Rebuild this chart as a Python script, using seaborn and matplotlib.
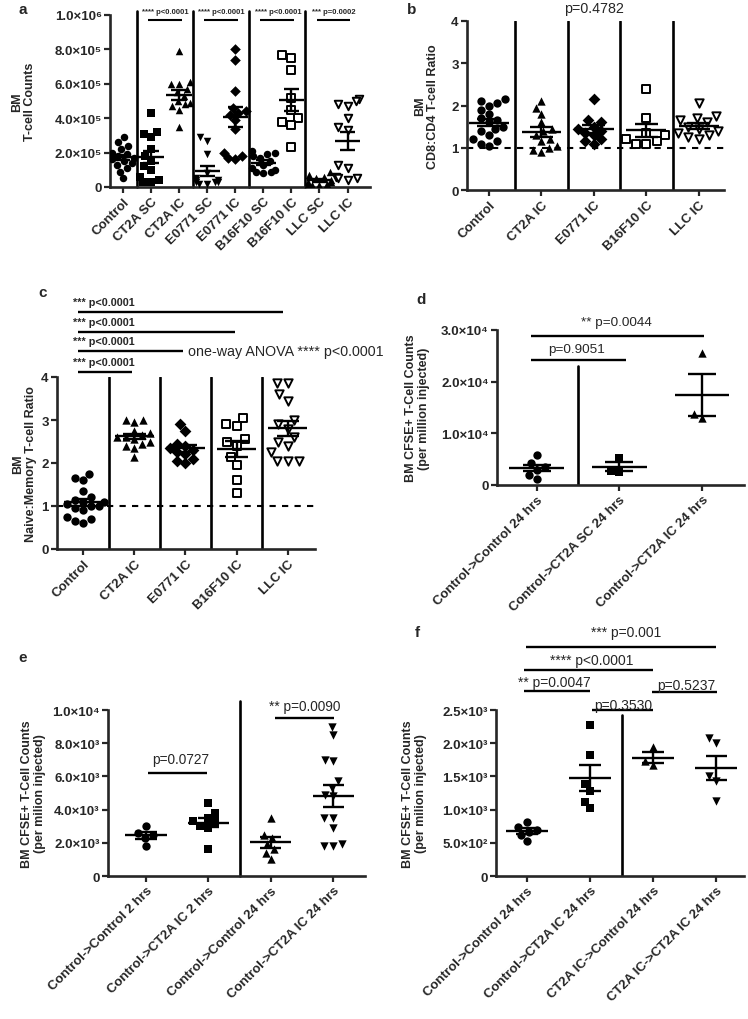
import numpy as np
import pandas as pd
import matplotlib
matplotlib.use("Agg")
import matplotlib.pyplot as plt
import seaborn as sns
import warnings

warnings.filterwarnings("ignore")
sns.set_style("ticks")
plt.rcParams['font.family'] = ['Liberation Sans', 'DejaVu Sans']
plt.rcParams['font.weight'] = 'bold'
plt.rcParams['axes.labelweight'] = 'bold'

# ---------------- data ----------------
# panel a : BM T-cell counts (x 1e5)
a_groups = ["Control", "CT2A SC", "CT2A IC", "E0771 SC", "E0771 IC",
            "B16F10 SC", "B16F10 IC", "LLC SC", "LLC IC"]
a_control = [2.9, 2.6, 2.4, 2.2, 2.0, 1.9, 1.8, 1.7, 1.6, 1.5, 1.4, 1.3, 1.1, 0.9, 0.5]
a_ct2a_sc = [4.3, 3.2, 3.1, 2.9, 2.2, 1.8, 1.5, 1.2, 1.0, 0.6, 0.4, 0.3, 0.3]
a_ct2a_ic = [7.9, 6.1, 6.0, 6.0, 5.7, 5.5, 5.3, 5.0, 4.9, 4.8, 4.7, 4.5, 3.5]
a_e0771_sc = [2.9, 2.7, 1.9, 0.8, 0.5, 0.4, 0.4, 0.3, 0.3, 0.3, 0.2, 0.2]
a_e0771_ic = [8.0, 7.4, 5.6, 4.6, 4.4, 4.3, 4.2, 3.9, 3.4, 2.0, 1.8, 1.7, 1.6]
a_b16_sc = [2.1, 2.0, 1.9, 1.8, 1.7, 1.5, 1.3, 1.1, 1.0, 0.9, 0.9, 0.8]
a_b16_ic = [7.7, 7.5, 6.8, 5.2, 4.5, 4.0, 3.8, 3.6, 2.3]
a_llc_sc = [0.9, 0.7, 0.6, 0.5, 0.4, 0.3, 0.3, 0.2, 0.2, 0.1, 0.1]
a_llc_ic = [5.1, 5.0, 4.8, 4.7, 4.0, 3.5, 3.3, 1.3, 1.1, 0.6, 0.5, 0.5, 0.4]
a_scale = 1e5
a_yticks = [0, 2e5, 4e5, 6e5, 8e5, 1e6]
a_yticklabels = ["0", "2.0×10⁵", "4.0×10⁵", "6.0×10⁵", "8.0×10⁵", "1.0×10⁶"]
a_pvals = ["**** p<0.0001", "**** p<0.0001", "**** p<0.0001", "*** p=0.0002"]

# panel b : CD8:CD4 ratio
b_groups = ["Control", "CT2A IC", "E0771 IC", "B16F10 IC", "LLC IC"]
b_control = [2.15, 2.1, 2.05, 2.0, 1.9, 1.8, 1.7, 1.65, 1.6, 1.5, 1.45, 1.4,
             1.3, 1.2, 1.15, 1.1, 1.05]
b_ct2a = [2.1, 1.95, 1.8, 1.6, 1.45, 1.4, 1.3, 1.2, 1.15, 1.05, 1.0, 0.95, 0.9]
b_e0771 = [2.15, 1.65, 1.6, 1.5, 1.45, 1.4, 1.35, 1.3, 1.2, 1.15, 1.1]
b_b16 = [2.4, 1.7, 1.35, 1.3, 1.2, 1.15, 1.1, 1.1]
b_llc = [2.05, 1.75, 1.7, 1.65, 1.6, 1.5, 1.45, 1.4, 1.35, 1.3, 1.25, 1.2]
b_yticks = [0, 1, 2, 3, 4]
b_pval = "p=0.4782"

# panel c : naive:memory ratio
c_groups = ["Control", "CT2A IC", "E0771 IC", "B16F10 IC", "LLC IC"]
c_control = [1.75, 1.65, 1.6, 1.35, 1.2, 1.15, 1.1, 1.1, 1.05, 1.0, 1.0, 0.95,
             0.9, 0.75, 0.7, 0.65, 0.6]
c_ct2a = [3.0, 3.0, 2.95, 2.75, 2.7, 2.65, 2.6, 2.6, 2.55, 2.5, 2.45, 2.4, 2.35, 2.15]
c_e0771 = [2.9, 2.75, 2.45, 2.4, 2.35, 2.3, 2.25, 2.2, 2.1, 2.05, 2.0]
c_b16 = [3.05, 2.9, 2.85, 2.55, 2.5, 2.4, 2.15, 1.95, 1.6, 1.3]
c_llc = [3.85, 3.85, 3.6, 3.45, 3.0, 2.9, 2.8, 2.6, 2.5, 2.4, 2.25, 2.05, 2.05, 2.05]
c_yticks = [0, 1, 2, 3, 4]
c_pval = "*** p<0.0001"
c_anova = "one-way ANOVA **** p<0.0001"

# panel d : CFSE+ counts (x 1e3)
d_groups = ["Control->Control 24 hrs", "Control->CT2A SC 24 hrs", "Control->CT2A IC 24 hrs"]
d_cc = [5.8, 4.3, 3.4, 3.0, 2.0, 1.2]
d_sc = [5.3, 2.8, 2.6]
d_ic = [25.5, 13.7, 12.9]
d_scale = 1e3
d_yticks = [0, 1e4, 2e4, 3e4]
d_yticklabels = ["0", "1.0×10⁴", "2.0×10⁴", "3.0×10⁴"]
d_pvals = ["p=0.9051", "** p=0.0044"]

# panel e : CFSE+ counts (x 1e3)
e_groups = ["Control->Control 2 hrs", "Control->CT2A IC 2 hrs",
            "Control->Control 24 hrs", "Control->CT2A IC 24 hrs"]
e_cc2 = [3.0, 2.6, 2.5, 2.3, 1.8]
e_ic2 = [4.4, 3.8, 3.5, 3.3, 3.2, 3.0, 2.9, 1.6]
e_cc24 = [3.5, 2.5, 2.3, 1.9, 1.6, 1.4, 1.0]
e_ic24 = [9.0, 8.5, 7.0, 6.9, 5.7, 5.3, 4.9, 4.8, 3.5, 3.5, 2.9, 1.9, 1.8, 1.8]
e_scale = 1e3
e_yticks = [0, 2e3, 4e3, 6e3, 8e3, 1e4]
e_yticklabels = ["0", "2.0×10³", "4.0×10³", "6.0×10³", "8.0×10³", "1.0×10⁴"]
e_pvals = ["p=0.0727", "** p=0.0090"]

# panel f : CFSE+ counts (x 1e2)
f_groups = ["Control->Control 24 hrs", "Control->CT2A IC 24 hrs",
            "CT2A IC->Control 24 hrs", "CT2A IC->CT2A IC 24 hrs"]
f_cc = [8.1, 7.4, 7.0, 6.6, 6.2, 5.3]
f_c_ic = [22.7, 18.2, 13.8, 12.8, 11.2, 10.2]
f_ic_c = [19.5, 17.3, 16.7]
f_ic_ic = [20.8, 20.0, 15.0, 14.3, 11.3]
f_scale = 1e2
f_yticks = [0, 500, 1000, 1500, 2000, 2500]
f_yticklabels = ["0", "5.0×10²", "1.0×10³", "1.5×10³", "2.0×10³", "2.5×10³"]
f_pvals = ["*** p=0.001", "**** p<0.0001", "** p=0.0047", "p=0.5237", "p=0.3530"]

cfse_label_d = "BM CFSE+ T-Cell Counts\n(per million injected)"
cfse_label = "BM CFSE+ T-Cell Counts\n(per milion injected)"

# ---------------- figure ----------------
W, H = 748, 1020
fig = plt.figure(figsize=(W / 100, H / 100), dpi=100)


def px_axes(x0, y0, x1, y1):
    return fig.add_axes([x0 / W, 1 - y1 / H, (x1 - x0) / W, (y1 - y0) / H])


def draw_panel(ax, groups, values, markers, opens, mean_w, cap_w, size=6.0):
    df = pd.DataFrame({"group": np.repeat(groups, [len(v) for v in values]),
                       "value": np.concatenate(values)})
    for g, m, o in zip(groups, markers, opens):
        sub = df[df["group"] == g]
        if o:
            sns.swarmplot(data=sub, x="group", y="value", order=groups, marker=m,
                          color="white", edgecolor="black", linewidth=1.4,
                          size=size, ax=ax, zorder=3)
        else:
            sns.swarmplot(data=sub, x="group", y="value", order=groups, marker=m,
                          color="black", size=size, ax=ax, zorder=3)
    stats = df.groupby("group", sort=False)["value"].agg(["mean", "sem"]).reindex(groups)
    for i, (mu, se) in enumerate(zip(stats["mean"], stats["sem"])):
        ax.hlines(mu, i - mean_w, i + mean_w, color="black", lw=1.7, zorder=5)
        ax.hlines([mu - se, mu + se], i - cap_w, i + cap_w, color="black", lw=1.7, zorder=5)
        ax.vlines(i, mu - se, mu + se, color="black", lw=1.7, zorder=5)
    ax.set_xticks(range(len(groups)))
    ax.set_xticklabels(groups, rotation=45, ha="right", rotation_mode="anchor",
                       fontsize=9.5, fontweight="bold")
    ax.set_xlabel("")
    for s in ["top", "right"]:
        ax.spines[s].set_visible(False)
    for s in ["left", "bottom"]:
        ax.spines[s].set_linewidth(1.9)
    ax.tick_params(axis="both", width=1.6, length=4, labelsize=9.5, pad=2)


def bracket(ax, x0, x1, y, lw=1.7):
    ax.plot([x0, x1], [y, y], color="black", lw=lw, clip_on=False,
            solid_capstyle="butt")


# panel a
ax = px_axes(110, 16, 370, 188)
draw_panel(ax, a_groups,
           [np.array(v) * a_scale for v in [a_control, a_ct2a_sc, a_ct2a_ic, a_e0771_sc,
                                             a_e0771_ic, a_b16_sc, a_b16_ic, a_llc_sc, a_llc_ic]],
           ["o", "s", "^", "v", "D", "o", "s", "^", "v"],
           [False, False, False, False, False, False, True, False, True],
           0.45, 0.27, size=5.4)
ax.set_ylim(0, 1e6)
ax.set_xlim(-0.46, 8.8)
ax.set_yticks(a_yticks)
ax.set_yticklabels(a_yticklabels, fontweight="bold")
for k in range(4):
    ax.axvline(2 * k + 0.5, ymin=0, ymax=1.025, color="black", lw=1.9, clip_on=False)
    bracket(ax, 2 * k + 0.9, 2 * k + 2.1, 0.971e6, lw=1.5)
    ax.text(2 * k + 1.52, 1.022e6, a_pvals[k], fontsize=5.5, fontweight="bold",
            ha="center", va="center")
ax.set_ylabel("BM\nT-cell Counts", fontsize=9, fontweight="bold", linespacing=1.1)
ax.yaxis.set_label_coords(-0.285, 0.5)

# panel b
ax = px_axes(467, 22, 724, 191)
draw_panel(ax, b_groups, [b_control, b_ct2a, b_e0771, b_b16, b_llc],
           ["o", "^", "D", "s", "v"], [False, False, False, True, True],
           0.38, 0.22)
ax.set_ylim(0, 4)
ax.set_xlim(-0.42, 4.48)
ax.set_yticks(b_yticks)
ax.axhline(1, color="black", lw=1.5, ls=(0, (3, 3)), zorder=1)
for k in range(4):
    ax.axvline(k + 0.5, color="black", lw=1.9)
ax.text(2.0, 4.3, b_pval, fontsize=10.3, fontweight="normal", ha="center", va="center")
ax.set_ylabel("BM\nCD8:CD4 T-cell Ratio", fontsize=9, fontweight="bold", linespacing=1.1)
ax.yaxis.set_label_coords(-0.11, 0.5)

# panel c
ax = px_axes(57, 378, 315, 550)
draw_panel(ax, c_groups, [c_control, c_ct2a, c_e0771, c_b16, c_llc],
           ["o", "^", "D", "s", "v"], [False, False, False, True, True],
           0.38, 0.22)
ax.set_ylim(0, 4)
ax.set_xlim(-0.51, 4.53)
ax.set_yticks(c_yticks)
ax.axhline(1, color="black", lw=1.5, ls=(0, (3, 3)), zorder=1)
for k in range(4):
    ax.axvline(k + 0.5, color="black", lw=1.9)
for y_line, x_end in zip([5.51, 5.05, 4.6, 4.12], [3.9, 2.97, 1.95, 0.96]):
    bracket(ax, -0.1, x_end, y_line)
    ax.text(-0.2, y_line + 0.24, c_pval, fontsize=7.8, fontweight="bold",
            ha="left", va="center")
ax.text(2.05, 4.6, c_anova, fontsize=10.3, fontweight="normal", ha="left", va="center")
ax.set_ylabel("BM\nNaive:Memory T-cell Ratio", fontsize=9, fontweight="bold",
              linespacing=1.1)
ax.yaxis.set_label_coords(-0.078, 0.5)

# panel d
ax = px_axes(497, 331, 744, 486)
draw_panel(ax, d_groups, [np.array(v) * d_scale for v in [d_cc, d_sc, d_ic]],
           ["o", "s", "^"], [False, False, False], 0.33, 0.17)
ax.set_ylim(0, 3e4)
ax.set_xlim(-0.48, 2.51)
ax.set_yticks(d_yticks)
ax.set_yticklabels(d_yticklabels, fontweight="bold")
ax.axvline(0.5, ymin=0, ymax=0.77, color="black", lw=1.9)
bracket(ax, -0.07, 1.08, 24.2e3)
ax.text(0.48, 26.4e3, d_pvals[0], fontsize=9.7, fontweight="normal", ha="center", va="center")
bracket(ax, -0.07, 2.02, 28.8e3)
ax.text(0.96, 31.5e3, d_pvals[1], fontsize=9.7, fontweight="normal", ha="center", va="center")
ax.set_ylabel(cfse_label_d, fontsize=9, fontweight="bold", linespacing=1.1)
ax.yaxis.set_label_coords(-0.27, 0.5)

# panel e
ax = px_axes(108, 711, 365, 877)
draw_panel(ax, e_groups, [np.array(v) * e_scale for v in [e_cc2, e_ic2, e_cc24, e_ic24]],
           ["o", "s", "^", "v"], [False, False, False, False], 0.33, 0.17)
ax.set_ylim(0, 1e4)
ax.set_xlim(-0.61, 3.51)
ax.set_yticks(e_yticks)
ax.set_yticklabels(e_yticklabels, fontweight="bold")
ax.axvline(1.5, ymin=0, ymax=1.054, color="black", lw=1.9, clip_on=False)
bracket(ax, 0.03, 0.98, 6.2e3)
ax.text(0.55, 7.05e3, e_pvals[0], fontsize=9.8, fontweight="normal", ha="center", va="center")
bracket(ax, 2.07, 3.02, 9.52e3)
ax.text(2.55, 10.25e3, e_pvals[1], fontsize=9.8, fontweight="normal", ha="center", va="center")
ax.set_ylabel(cfse_label, fontsize=9, fontweight="bold", linespacing=1.1)
ax.yaxis.set_label_coords(-0.24, 0.5)

# panel f
ax = px_axes(496, 711, 744, 877)
draw_panel(ax, f_groups, [np.array(v) * f_scale for v in [f_cc, f_c_ic, f_ic_c, f_ic_ic]],
           ["o", "s", "^", "v"], [False, False, False, False], 0.33, 0.17)
ax.set_ylim(0, 2500)
ax.set_xlim(-0.49, 3.44)
ax.set_yticks(f_yticks)
ax.set_yticklabels(f_yticklabels, fontweight="bold")
ax.axvline(1.5, ymin=0, ymax=0.97, color="black", lw=1.9)
f_lines = [(-0.02, 3.0, 3449), (-0.05, 2.0, 3102), (-0.05, 1.0, 2786),
           (1.98, 3.02, 2771), (1.03, 2.0, 2500)]
f_texts = [(1.57, 3680), (1.02, 3255), (0.43, 2925), (2.52, 2880), (1.52, 2580)]
for (x0, x1, yl), (xt, yt), lab in zip(f_lines, f_texts, f_pvals):
    bracket(ax, x0, x1, yl)
    ax.text(xt, yt, lab, fontsize=10, fontweight="normal", ha="center", va="center")
ax.set_ylabel(cfse_label, fontsize=9, fontweight="bold", linespacing=1.1)
ax.yaxis.set_label_coords(-0.28, 0.5)

# panel letters
for lab, (x, y) in zip("abcdef", [(23, 10), (412, 10), (43, 293), (421, 300),
                                   (23, 658), (417, 633)]):
    fig.text(x / W, 1 - y / H, lab, fontsize=11, fontweight="bold", ha="center", va="center")

fig.savefig("out.png", dpi=100)
